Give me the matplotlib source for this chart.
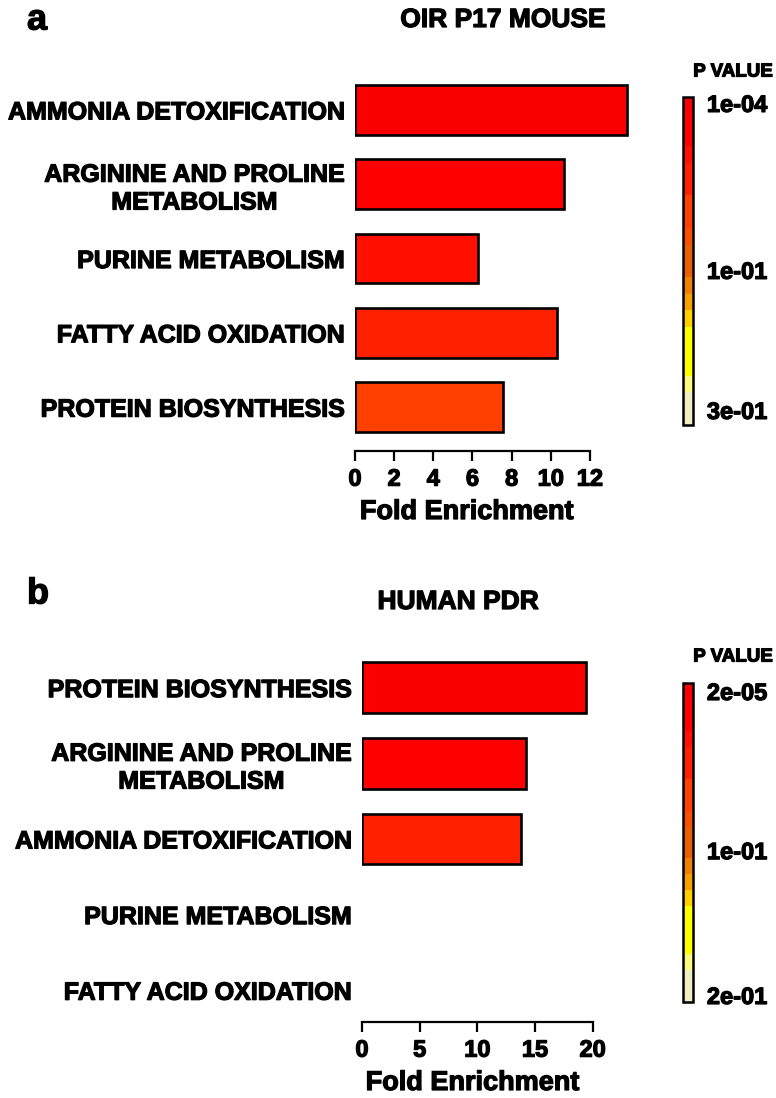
import numpy as np
import matplotlib
matplotlib.use("Agg")
import matplotlib.pyplot as plt
import matplotlib.patheffects as pe
from matplotlib.text import Text
from matplotlib.colors import ListedColormap, Normalize
from matplotlib.cm import ScalarMappable

plt.rcParams["font.family"] = ["Liberation Sans", "DejaVu Sans"]
plt.rcParams["font.weight"] = "bold"

# panel a : OIR P17 mouse
terms_a = ["AMMONIA DETOXIFICATION", "ARGININE AND PROLINE\nMETABOLISM",
           "PURINE METABOLISM", "FATTY ACID OXIDATION", "PROTEIN BIOSYNTHESIS"]
fold_a = [13.9, 10.7, 6.3, 10.3, 7.55]
pval_a = [1e-4, 3e-4, 1e-3, 3e-3, 1e-2]
cb_ticks_a = [1e-4, 1e-1, 3e-1]
cb_labels_a = ["1e-04", "1e-01", "3e-01"]

# panel b : human PDR
terms_b = ["PROTEIN BIOSYNTHESIS", "ARGININE AND PROLINE\nMETABOLISM",
           "AMMONIA DETOXIFICATION", "PURINE METABOLISM", "FATTY ACID OXIDATION"]
fold_b = [19.4, 14.2, 13.8, np.nan, np.nan]
pval_b = [2e-5, 1e-4, 1e-3, np.nan, np.nan]
cb_ticks_b = [2e-5, 1e-1, 2e-1]
cb_labels_b = ["2e-05", "1e-01", "2e-01"]

# stepped red -> yellow -> cream scale (bottom to top)
levels = ["#f2eec4", "#f2eec4", "#fafa80", "#ffff00", "#ffff00", "#ffff00",
          "#ffd000", "#f5a000", "#f08000", "#e86000", "#e86000", "#f85000",
          "#ff4000", "#ff4000", "#ff2000", "#ff2000", "#ff1000", "#ff0000",
          "#ff0000", "#fb0000"]
cmap = ListedColormap(levels)


def p_to_t(p, ticks, tpos):
    return np.interp(np.log10(p), np.log10(ticks), tpos)


def panel(rect, cbrect, terms, fold, pval, xmax, xticks, spine_end, ybottom,
          ticks, labels, tpos, title, title_xy, letter, letter_y, pv_y):
    ax = fig.add_axes(rect)
    y = np.arange(len(terms))
    fold = np.array(fold, dtype=float)
    pval = np.array(pval, dtype=float)
    ok = ~np.isnan(fold)
    t = p_to_t(pval[ok], ticks, tpos)
    cols = [cmap(v) for v in t]
    ax.barh(y[ok], fold[ok], height=0.67, color=cols,
            edgecolor="black", linewidth=1.9)
    ax.set_xlim(0, xmax)
    ax.set_ylim(ybottom, -0.55)
    ax.set_yticks(y)
    ax.set_yticklabels(terms, fontsize=18, fontweight="bold")
    for lb in ax.get_yticklabels():
        lb.set_multialignment("center")
    ax.tick_params(axis="y", length=0, pad=8)
    ax.set_xticks(xticks)
    ax.tick_params(axis="x", labelsize=17, width=1.6, length=7, pad=5)
    for s in ["left", "right", "top"]:
        ax.spines[s].set_visible(False)
    ax.spines["bottom"].set_linewidth(1.6)
    ax.spines["bottom"].set_bounds(0, spine_end)
    ax.set_xlabel("Fold Enrichment", fontsize=19.5, fontweight="bold", labelpad=6)
    ax.xaxis.label.set_x(spine_end / 2 / xmax - 0.02)

    cax = fig.add_axes(cbrect)
    cb = fig.colorbar(ScalarMappable(Normalize(0, 1), cmap), cax=cax)
    cb.set_ticks(tpos)
    cb.set_ticklabels(labels)
    cb.outline.set_linewidth(1.8)
    cax.tick_params(length=0, pad=10, labelsize=17)

    fig.text(title_xy[0], title_xy[1], title, fontsize=19, fontweight="bold",
             ha="center", va="center")
    fig.text(27 / 776, letter_y, letter, fontsize=26, fontweight="bold",
             ha="left", va="center")
    fig.text(733 / 776, pv_y, "P VALUE", fontsize=13.5, fontweight="bold",
             ha="center", va="center")
    return ax


fig = plt.figure(figsize=(7.76, 10.98), dpi=100)

panel([355 / 776, 1 - 451 / 1098, 278 / 776, 382 / 1098],
      [683 / 776, 1 - 425 / 1098, 10 / 776, 328 / 1098],
      terms_a, fold_a, pval_a, 14.2, np.arange(0, 13, 2), 12, 4.59,
      cb_ticks_a, cb_labels_a, [0.982, 0.473, 0.046],
      "OIR P17 MOUSE", (503 / 776, 1 - 20 / 1098), "a", 1 - 20 / 1098, 1 - 72 / 1098)

panel([362 / 776, 1 - 1022 / 1098, 233 / 776, 376 / 1098],
      [683 / 776, 1 - 1002 / 1098, 10 / 776, 319 / 1098],
      terms_b, fold_b, pval_b, 20.2, np.arange(0, 21, 5), 20, 4.42,
      cb_ticks_b, cb_labels_b, [0.975, 0.476, 0.022],
      "HUMAN PDR", (458 / 776, 1 - 602 / 1098), "b", 1 - 594 / 1098, 1 - 657 / 1098)

# heavier strokes, the original type is very dark
for txt in fig.findobj(Text):
    txt.set_path_effects([pe.withStroke(linewidth=0.9, foreground="black")])

fig.savefig("out.png", dpi=100)
